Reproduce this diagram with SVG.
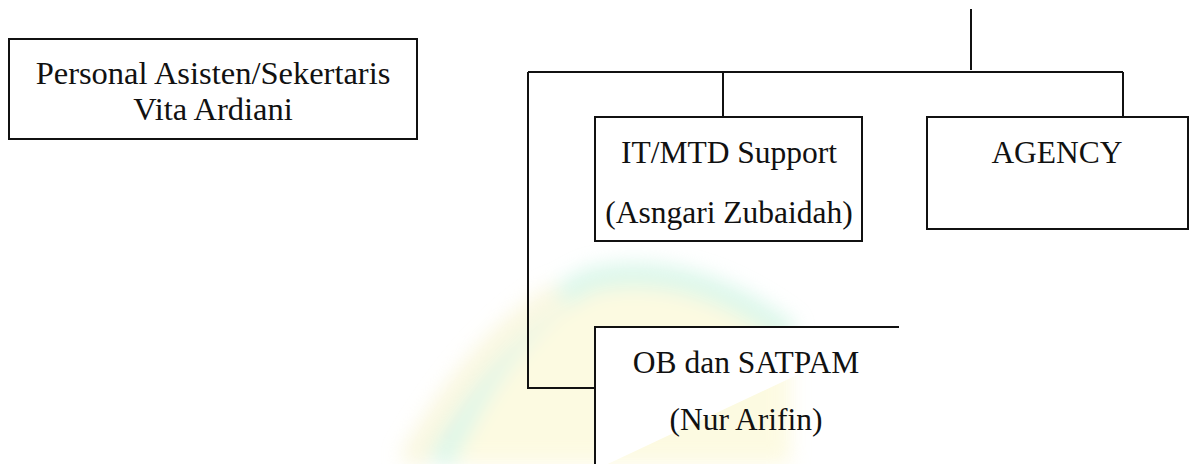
<svg xmlns="http://www.w3.org/2000/svg" width="1191" height="464" viewBox="0 0 1191 464">
  <style>
    .box { fill: #ffffff; stroke: #111111; stroke-width: 2; }
    .open { fill: #ffffff; stroke: #111111; stroke-width: 2; }
    .edge { fill: none; stroke: #111111; stroke-width: 2; }
    .label { font-family: "Liberation Serif", "Times New Roman", serif; font-size: 31.5px; fill: #111111; text-anchor: middle; }
    .wide { font-size: 32.5px; }
  </style>
  <defs>
    <filter id="soft" x="-20%" y="-20%" width="140%" height="140%">
      <feGaussianBlur stdDeviation="10"/>
    </filter>
  </defs>

  <rect width="1191" height="464" fill="#ffffff"/>

  <!-- faint emblem in the background -->
  <g id="emblem" filter="url(#soft)" opacity="0.5">
    <path d="M 450 464 Q 510 330 590 285 Q 680 262 790 340 L 790 464 Z" fill="#fbf6c4"/>
    <path d="M 440 464 Q 505 320 590 280 Q 690 258 790 335" fill="none" stroke="#b6efd6" stroke-width="24"/>
    <path d="M 410 464 Q 480 340 560 295" fill="none" stroke="#f5f0c2" stroke-width="26"/>
  </g>

  <!-- connectors -->
  <g id="connectors">
    <line class="edge" x1="971" y1="9" x2="971" y2="70"/>
    <line class="edge" x1="528" y1="72" x2="1123" y2="72"/>
    <line class="edge" x1="528" y1="72" x2="528" y2="388"/>
    <line class="edge" x1="527" y1="388" x2="596" y2="388"/>
    <line class="edge" x1="723" y1="72" x2="723" y2="117"/>
    <line class="edge" x1="1123" y1="72" x2="1123" y2="117"/>
  </g>

  <g id="node-personal">
    <rect class="box" x="9" y="39" width="408" height="100"/>
    <text class="label wide" x="213" y="84">Personal Asisten/Sekertaris</text>
    <text class="label wide" x="213" y="120">Vita Ardiani</text>
  </g>

  <g id="node-it">
    <rect class="box" x="595" y="117" width="267" height="124"/>
    <text class="label" x="729" y="163">IT/MTD Support</text>
    <text class="label" x="729" y="223">(Asngari Zubaidah)</text>
  </g>

  <g id="node-agency">
    <rect class="box" x="927" y="117" width="261" height="112"/>
    <text class="label" x="1057" y="163">AGENCY</text>
  </g>

  <g id="node-ob">
    <path class="open" d="M 595 470 L 595 327 L 899 327"/>
    <text class="label" x="746" y="373">OB dan SATPAM</text>
    <text class="label" x="746" y="430">(Nur Arifin)</text>
  </g>
</svg>
